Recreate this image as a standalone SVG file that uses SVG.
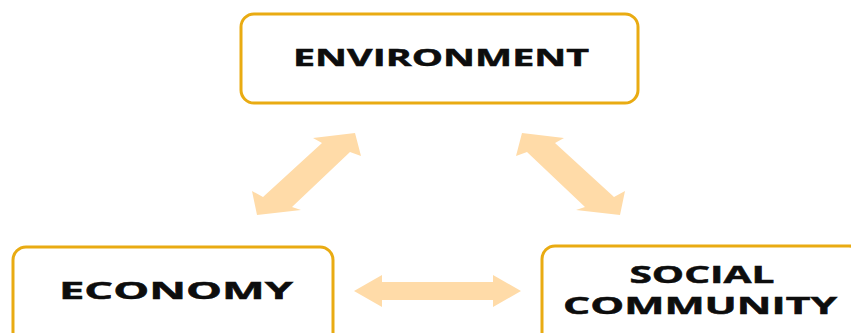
<svg xmlns="http://www.w3.org/2000/svg" width="851" height="333" viewBox="0 0 851 333">
  <style>
    .box { fill: #ffffff; stroke: #E9AB12; stroke-width: 3; }
    .label { font-family: "Open Sans", "Liberation Sans", sans-serif; font-weight: 700; font-size: 24px; fill: #0d0d0d; stroke: #0d0d0d; stroke-width: 0.5; text-anchor: middle; }
    .link { fill: #FFDBA8; stroke: none; }
  </style>
  <rect width="851" height="333" fill="#ffffff"/>

  <g id="connectors">
    <!-- ENVIRONMENT <-> ECONOMY -->
    <polygon class="link" points="355,133 361,156 350,152 292,207 301,210 257,215 252,191 263,197 322,143 313,138"/>
    <!-- ENVIRONMENT <-> SOCIAL COMMUNITY -->
    <polygon class="link" points="522,133 516,156 527,152 585,207 576,210 620,215 625,191 614,197 555,143 564,138"/>
    <!-- ECONOMY <-> SOCIAL COMMUNITY -->
    <polygon class="link" points="354,291 382,275 382,282 493,282 493,275 521,291 493,307 493,300 382,300 382,307"/>
  </g>

  <g id="environment">
    <rect class="box" x="241" y="14" width="397" height="89" rx="13"/>
    <text class="label" x="441" y="66" textLength="296" lengthAdjust="spacingAndGlyphs">ENVIRONMENT</text>
  </g>

  <g id="economy">
    <rect class="box" x="13" y="247" width="320" height="100" rx="13"/>
    <text class="label" x="176" y="299" textLength="234" lengthAdjust="spacingAndGlyphs">ECONOMY</text>
  </g>

  <g id="social-community">
    <rect class="box" x="542" y="246" width="320" height="100" rx="13"/>
    <text class="label" x="702" y="283" textLength="145" lengthAdjust="spacingAndGlyphs">SOCIAL</text>
    <text class="label" x="700" y="314" textLength="274" lengthAdjust="spacingAndGlyphs">COMMUNITY</text>
  </g>
</svg>
